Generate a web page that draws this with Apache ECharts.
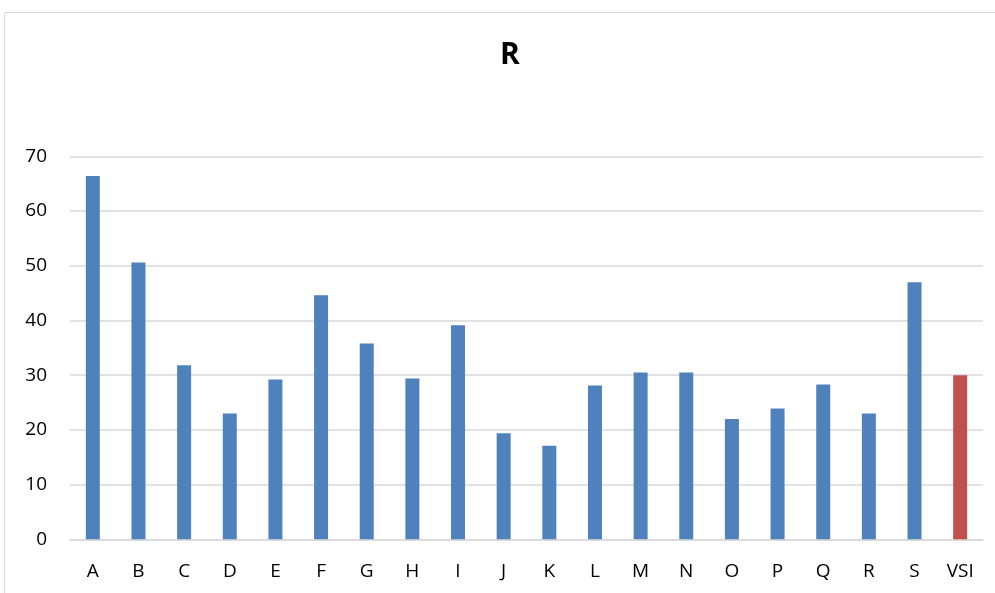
<!DOCTYPE html>
<html>
<head>
<meta charset="utf-8">
<script src="https://cdn.jsdelivr.net/npm/echarts@6/dist/echarts.min.js"></script>
<style>
html,body{margin:0;padding:0;background:#fff;}
#chart{width:995px;height:593px;}
</style>
</head>
<body>
<div id="chart"></div>
<script>
const categories = ["A","B","C","D","E","F","G","H","I","J","K","L","M","N","O","P","Q","R","S","VSI"];
const values = [66.4,50.6,31.8,23.0,29.2,44.6,35.8,29.4,39.1,19.4,17.1,28.1,30.5,30.5,22.0,23.9,28.3,23.0,47.0,30.0];
const highlightCategory = "VSI";
const yTicks = [0,10,20,30,40,50,60,70];

const chart = echarts.init(document.getElementById('chart'));
const font = '"Open Sans", "Liberation Sans", sans-serif';
chart.setOption({
  animation: false,
  backgroundColor: '#fff',
  graphic: [{
    type: 'rect',
    shape: {x: 4.5, y: 12.5, width: 1000, height: 600},
    style: {fill: 'none', stroke: '#D9D9D9', lineWidth: 1}
  }],
  title: {
    text: 'R',
    left: 505,
    textAlign: 'center',
    top: 35,
    textStyle: {fontFamily: font, fontSize: 30, fontWeight: 'bold', color: '#000'}
  },
  grid: {left: 70, right: 12, top: 156.3, bottom: 53.7, containLabel: false},
  xAxis: {
    type: 'category',
    data: categories,
    axisTick: {show: false},
    axisLine: {show: true, lineStyle: {color: '#D9D9D9', width: 1.5}},
    axisLabel: {fontFamily: font, fontSize: 19, color: '#000', margin: 23, interval: 0}
  },
  yAxis: {
    type: 'value',
    min: yTicks[0],
    max: yTicks[yTicks.length - 1],
    interval: 10,
    axisLine: {show: false},
    axisTick: {show: false},
    splitLine: {lineStyle: {color: '#D9D9D9', width: 1.5}},
    axisLabel: {fontFamily: font, fontSize: 19, color: '#000', margin: 23}
  },
  series: [{
    type: 'bar',
    barWidth: 14,
    data: values.map((v, i) => ({
      value: v,
      itemStyle: {color: categories[i] === highlightCategory ? '#C0504D' : '#4F81BD'}
    }))
  }]
});
</script>
</body>
</html>
